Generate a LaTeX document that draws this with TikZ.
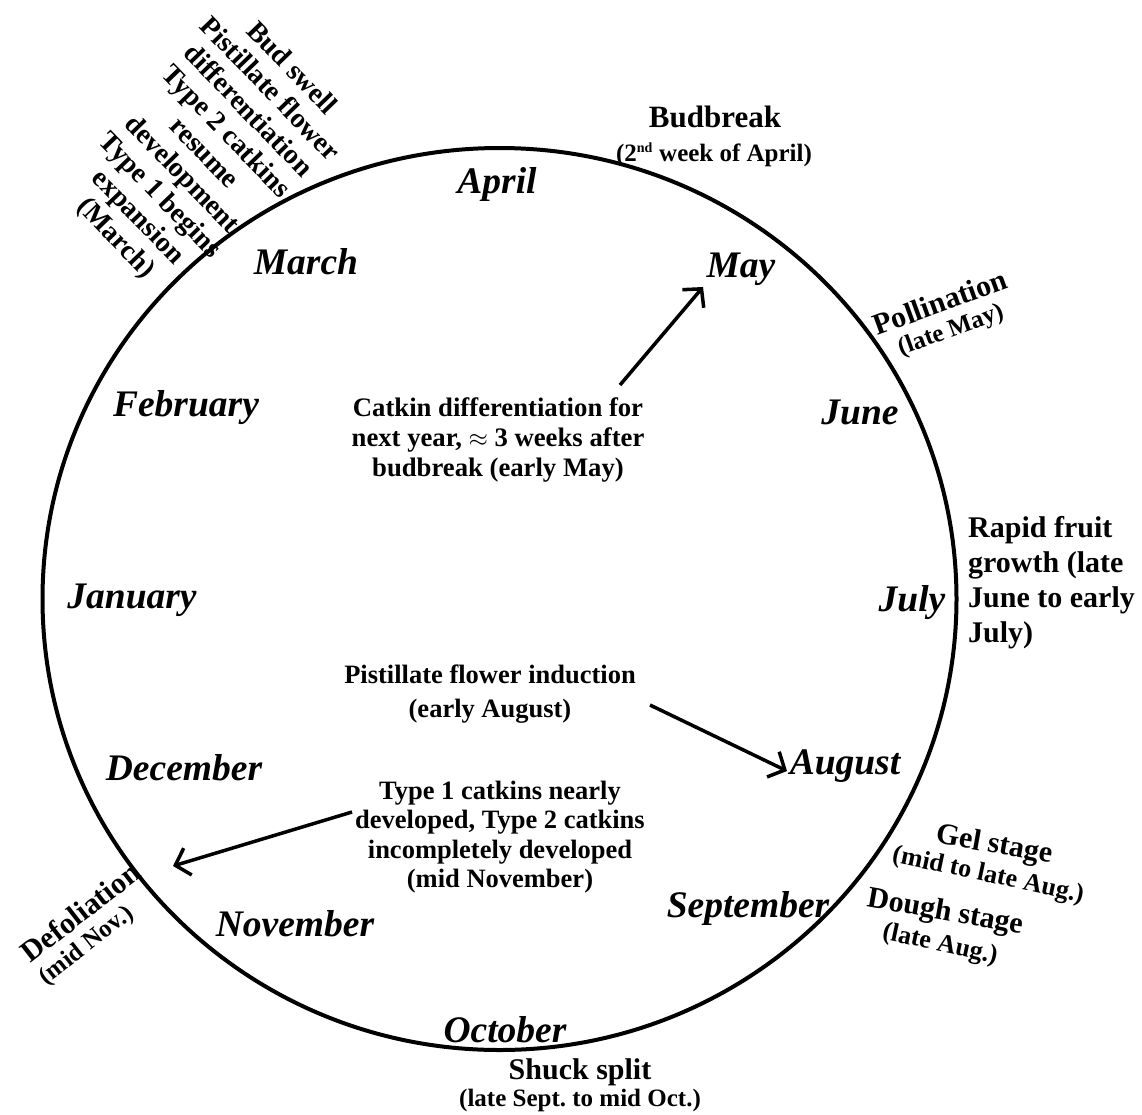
\documentclass[tikz,border=0pt]{standalone}
\usepackage{fontspec}
\setmainfont{Liberation Serif}
\usetikzlibrary{arrows.meta,shapes.geometric}
\frenchspacing
\begin{document}
\begin{tikzpicture}[x=1pt,y=-1pt,
  month/.style={font=\fontsize{37.5}{40}\selectfont\bfseries\itshape, inner sep=0pt},
  lbl/.style={font=\fontsize{27}{32}\selectfont\bfseries, align=center, inner sep=0pt},
  sub/.style={font=\fontsize{25}{28}\selectfont\bfseries, align=center, inner sep=0pt},
  arr/.style={line width=3.5pt, -{Straight Barb[length=13pt,width=28pt,line width=3.5pt]}},
  ring/.style={line width=4pt}]
\useasboundingbox (0,0) rectangle (1142,1114);
\fill[white] (0,0) rectangle (1142,1114);
% circle
\node[ring, draw, ellipse, minimum width=914pt, minimum height=902pt, inner sep=0pt] (ring) at (499.5,599) {};
% months
\node[month] (apr) at (497,184) {April};
\node[month] (mar) at (306,262) {March};
\node[month] (may) at (741,269) {May};
\node[month] (feb) at (186,408) {February};
\node[month] (jun) at (860,412) {June};
\node[month] (jan) at (132,600) {January};
\node[month] (jul) at (912,603) {July};
\node[month] (dec) at (184,768) {December};
\node[month] (aug) at (845,766) {August};
\node[month] (nov) at (295,924) {November};
\node[month] (sep) at (748,908) {September};
\node[month] (oct) at (505,1030) {October};
% outer events
\node[lbl, font=\fontsize{31}{34}\selectfont\bfseries] (bud) at (715,117) {Budbreak};
\node[sub] (budd) at (714,155) {(2\textsuperscript{\fontsize{14}{14}\selectfont nd} week of April)};
\node[lbl, rotate=-46, font=\fontsize{28}{30.5}\selectfont\bfseries] (swell) at (203,154)
  {Bud swell\\Pistillate flower\\differentiation\\Type 2 catkins\\resume\\development\\Type 1 begins\\expansion\\(March)};
\node[lbl, rotate=20, font=\fontsize{30}{32}\selectfont\bfseries] (pol) at (940,302) {Pollination};
\node[sub, rotate=20] (pold) at (951,331) {(late May)};
\node[lbl, align=left, anchor=north west, font=\fontsize{30}{35}\selectfont\bfseries] (rapid) at (968,516)
  {Rapid fruit\\growth (late\\June to early\\July)};
\node[lbl, rotate=-10, font=\fontsize{30}{32}\selectfont\bfseries] (gel) at (994,846) {Gel stage};
\node[sub, rotate=-12, font=\fontsize{26}{28}\selectfont\bfseries] (geld) at (988,876) {(mid to late Aug.)};
\node[lbl, rotate=-10, font=\fontsize{30}{32}\selectfont\bfseries] (dough) at (945,913) {Dough stage};
\node[sub, rotate=-12, font=\fontsize{26}{28}\selectfont\bfseries] (doughd) at (940,945) {(late Aug.)};
\node[lbl, font=\fontsize{30}{32}\selectfont\bfseries] (shuck) at (580,1072) {Shuck split};
\node[sub] (shuckd) at (580,1100) {(late Sept. to mid Oct.)};
\node[lbl, rotate=38, font=\fontsize{30}{32}\selectfont\bfseries] (defol) at (80,912) {Defoliation};
\node[sub, rotate=38] (defold) at (87,946) {(mid Nov.)};
% inner notes
\node[lbl, font=\fontsize{26.7}{30}\selectfont\bfseries] (catkin) at (498,440)
  {Catkin differentiation for\\next year, \(\approx\) 3 weeks after\\budbreak (early May)};
\node[lbl, font=\fontsize{26.5}{34}\selectfont\bfseries] (induct) at (490,694)
  {Pistillate flower induction\\(early August)};
\node[lbl, font=\fontsize{26.5}{29.3}\selectfont\bfseries] (type1) at (500,837)
  {Type 1 catkins nearly\\developed, Type 2 catkins\\incompletely developed\\(mid November)};
% arrows
\coordinate (c1) at (620,385);
\coordinate (c2) at (703,287);
\coordinate (i1) at (650,705);
\coordinate (i2) at (787,771);
\coordinate (t1) at (352,812);
\coordinate (t2) at (173,866);
\draw[arr] (c1) -- (c2);
\draw[arr] (i1) -- (i2);
\draw[arr] (t1) -- (t2);
\end{tikzpicture}
\end{document}
